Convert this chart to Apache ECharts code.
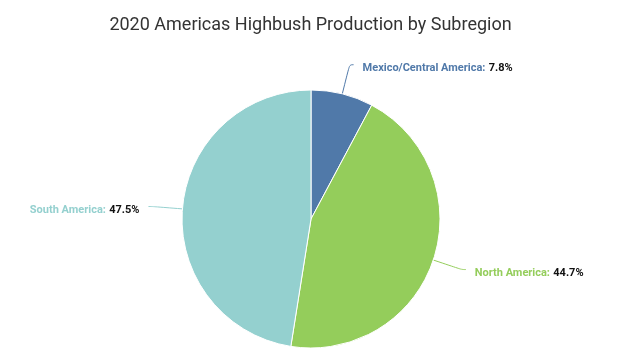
<!DOCTYPE html>
<html>
<head>
<meta charset="utf-8">
<script src="https://cdn.jsdelivr.net/npm/echarts@6/dist/echarts.min.js"></script>
<style>
  html, body { margin: 0; padding: 0; background: #fff; }
  #chart { width: 621px; height: 354px; }
</style>
</head>
<body>
<div id="chart"></div>
<script>
// Share of 2020 highbush production, percent
const subregions = ['Mexico/Central America', 'North America', 'South America'];
const shares = [7.8, 44.7, 47.5];
const colors = ['#5079a9', '#94cd5b', '#94d0cf'];

const chart = echarts.init(document.getElementById('chart'), null, { renderer: 'canvas' });

const data = subregions.map((name, i) => ({
  name: name,
  value: shares[i],
  itemStyle: { color: colors[i] },
  label: {
    rich: {
      n: { color: colors[i], fontWeight: 'bold', fontSize: 11, fontFamily: 'Roboto' },
      v: { color: '#111', fontWeight: 'bold', fontSize: 11, fontFamily: 'Roboto' }
    }
  },
  labelLine: { lineStyle: { color: colors[i] } }
}));

chart.setOption({
  animation: false,
  title: {
    text: '2020 Americas Highbush Production by Subregion',
    left: 'center',
    top: 11,
    textStyle: { fontFamily: 'Roboto', fontSize: 18, fontWeight: 'normal', color: '#333' }
  },
  series: [{
    type: 'pie',
    center: [311, 219],
    radius: 129,
    startAngle: 90,
    clockwise: true,
    data: data,
    itemStyle: { borderColor: '#fff', borderWidth: 1 },
    label: {
      show: true,
      distanceToLabelLine: 9,
      padding: [7, 0, 0, 0],
      formatter: p => '{n|' + p.name + ':} {v|' + p.value.toFixed(1) + '%}'
    },
    labelLine: { show: true, length: 30, length2: 4, smooth: 0.4 }
  }]
});
</script>
</body>
</html>
